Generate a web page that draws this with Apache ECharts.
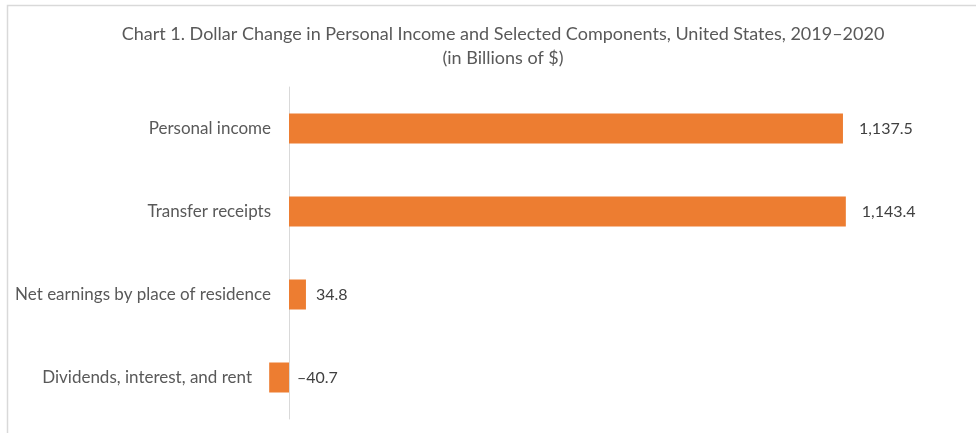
<!DOCTYPE html>
<html>
<head>
<meta charset="utf-8">
<script src="https://cdn.jsdelivr.net/npm/echarts@6/dist/echarts.min.js"></script>
<style>
html,body{margin:0;padding:0;background:#fff;overflow:hidden;}
#chart{width:976px;height:433px;}
</style>
</head>
<body>
<div id="chart"></div>
<script>
var categories = ['Personal income', 'Transfer receipts', 'Net earnings by place of residence', 'Dividends, interest, and rent'];
var values = [1137.5, 1143.4, 34.8, -40.7];
var titleLines = ['Chart 1. Dollar Change in Personal Income and Selected Components, United States, 2019\u20132020', '(in Billions of $)'];

var FONT = 'Lato';
var labelGaps = [16, 16, 10, 8];
function fmt(v) {
  var s = Math.abs(v).toFixed(1).replace(/\B(?=(\d{3})+(?!\d))/g, ',');
  return (v < 0 ? '\u2013' : '') + s;
}
var chart = echarts.init(document.getElementById('chart'));
chart.setOption({
  animation: false,
  backgroundColor: '#fff',
  title: {
    text: titleLines.join('\n'),
    left: 498, top: 17, textAlign: 'center',
    textStyle: { fontFamily: FONT, fontSize: 18, fontWeight: 'normal', color: '#595959', lineHeight: 24 }
  },
  graphic: [{
    type: 'rect', shape: { x: 7.5, y: 5.5, width: 1100, height: 600 },
    style: { fill: 'none', stroke: '#D9D9D9', lineWidth: 1.5 }, silent: true
  }],
  grid: { left: 240.3, right: 53.9, top: 87, bottom: 14, outerBoundsMode: 'none' },
  xAxis: {
    type: 'value', min: -100, max: 1300, show: false,
    splitLine: { show: false }
  },
  yAxis: {
    type: 'category', inverse: true, data: categories,
    axisLine: { show: true, onZero: true, lineStyle: { color: '#D9D9D9', width: 1 } },
    axisTick: { show: false },
    axisLabel: {
      margin: -30.7, color: '#595959', fontFamily: FONT, fontSize: 17,
      formatter: function (v, i) { return i === 3 ? '{d|' + v + '}' : v; },
      rich: { d: { padding: [0, 19, 0, 0], color: '#595959', fontFamily: FONT, fontSize: 17 } }
    }
  },
  series: [{
    type: 'bar', barWidth: 30,
    data: values.map(function (v, i) {
      return { value: v, label: { distance: labelGaps[i] } };
    }),
    itemStyle: { color: '#ED7D31' },
    label: {
      show: true, position: 'right',
      color: '#404040', fontFamily: FONT, fontSize: 16,
      formatter: function (p) { return fmt(p.value); }
    }
  }]
});
</script>
</body>
</html>
